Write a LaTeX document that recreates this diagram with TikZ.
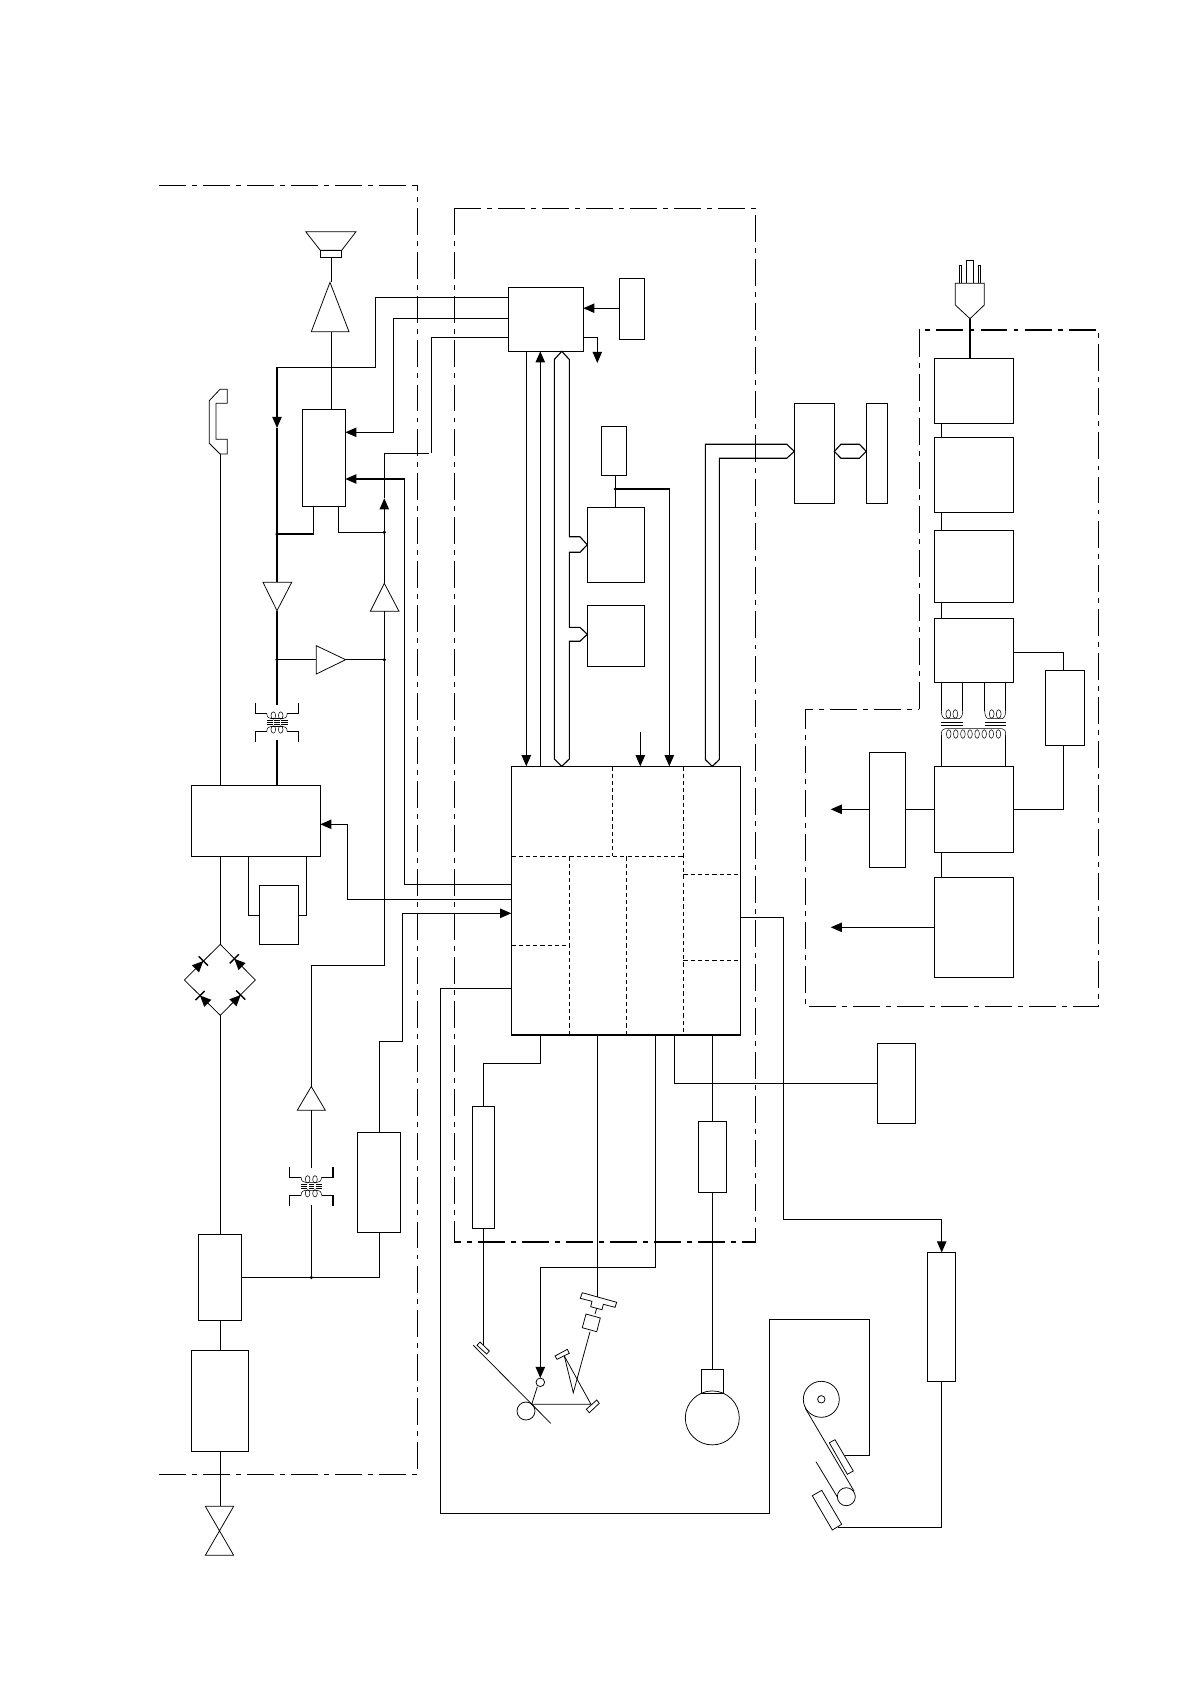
\documentclass[tikz,border=0pt]{standalone}
\usepackage{amsmath}
\usetikzlibrary{arrows.meta, fit}
\tikzset{
  wire/.style={line width=0.95pt},
  thin wire/.style={line width=0.65pt},
  coil wire/.style={line width=0.45pt},
  blk/.style={draw,line width=0.95pt,inner sep=0pt,outer sep=0pt},
  arr/.style={wire,-{Triangle[length=9.5pt,width=8pt]}},
  frame/.style={line width=0.95pt,dash pattern=on 23pt off 5.2pt on 4.2pt off 5.2pt},
  cell/.style={line width=0.85pt,dash pattern=on 3.6pt off 2.6pt},
}
\newcommand{\blk}[5]{\coordinate (#1a) at (#2,#3); \coordinate (#1b) at (#4,#5); \node[blk,fit=(#1a)(#1b)] (#1) {};}
\newcommand{\dotat}[2]{\fill (#1,#2) circle (1.5pt);}
\newcommand{\diode}[3]{\begin{scope}[shift={(#1,#2)},rotate=#3]
  \fill (0,0) -- (-11,-5) -- (-11,5) -- cycle;
  \draw[line width=1.2pt] (0,-6.5) -- (0,6.5);
\end{scope}}
\newcommand{\xfmr}[2]{\begin{scope}[shift={(#1,#2)},coil wire]
  \foreach \s in {1,-1}{
    \begin{scope}[yscale=\s]
      \draw[wire] (-21.7,-19.2) -- (-21.7,-9.2) -- (-10.3,-9.2);
      \draw[wire] (21.7,-19.2) -- (21.7,-9.2) -- (10.3,-9.2);
      \draw (-10.3,-9.2) .. controls (-10,-5) and (-8,-4) .. (-6,-4) -- (6,-4) .. controls (8,-4) and (10,-5) .. (10.3,-9.2);
      \draw (-3.7,-7) ellipse (2.3 and 3.7);
      \draw (3.7,-7) ellipse (2.3 and 3.7);
      \draw[thin wire] (-10,-1.8) -- (-4.3,-1.8) (-2.7,-1.8) -- (2.7,-1.8) (4.3,-1.8) -- (10.5,-1.8);
    \end{scope}}
  \draw[thin wire] (-10,0) -- (-4.3,0) (-2.7,0) -- (2.7,0) (4.3,0) -- (10.5,0);
\end{scope}}
\begin{document}
\begin{tikzpicture}[x=0.03cm,y=-0.03cm]
  \useasboundingbox (0,0) rectangle (1196,1682);
  \draw[frame] (159,185.3) -- (417.5,185.3);
  \draw[frame] (159,1474.5) -- (417.5,1474.5) -- (417.5,185.3);
  \draw[frame] (454.3,208.3) rectangle (755.3,1242);
  \draw[frame] (919.3,709.3) -- (919.3,330) -- (1098.3,330) -- (1098.3,1006.7) -- (805.3,1006.7) -- (805.3,709.3) -- cycle;

  \blk{ctl}{508.3}{287.3}{583.3}{351.3}
  \blk{gen}{619.3}{278.2}{644.3}{339.2}
  \blk{mix}{302.3}{409.3}{345.3}{506.3}
  \blk{modem}{191.3}{785.3}{320.3}{856.3}
  \blk{relay}{259.3}{885.3}{298.3}{944.3}
  \blk{hyb}{198.3}{1234.2}{241.3}{1320.3}
  \blk{filt}{191.3}{1350.2}{248.7}{1451.6}
  \blk{det}{357.3}{1132.4}{400.3}{1232.3}
  \blk{mcu}{511.3}{766.3}{740.3}{1035}
  \blk{bat}{601.3}{426.3}{626.3}{475.2}
  \blk{rom}{587.3}{507.2}{644.3}{582.3}
  \blk{ram}{587.3}{605.4}{644.3}{666.3}
  \blk{lcdc}{794.3}{403.2}{834.3}{503.4}
  \blk{lcd}{866.3}{403.2}{887.3}{503.4}
  \blk{scan}{472.3}{1106.4}{494.3}{1228.2}
  \blk{drv}{698.3}{1121.4}{726.3}{1192.5}
  \blk{oper}{877.3}{1043.2}{915.3}{1123.2}
  \blk{head}{927.7}{1252.5}{955.3}{1381.3}
  \blk{fuse}{934.3}{358.3}{1013.3}{423.3}
  \blk{noise}{934.3}{437.3}{1013.3}{512.3}
  \blk{rect}{934.3}{530.3}{1013.3}{602.3}
  \blk{chop}{934.3}{618.3}{1013.3}{682.3}
  \blk{fb}{1045.3}{670.3}{1084.7}{745.7}
  \blk{out}{934.3}{766.3}{1013.3}{852.3}
  \blk{reg}{869.3}{752.3}{905.7}{867.3}
  \blk{aux}{934.3}{877.3}{1013.3}{977.3}

  \draw[cell] (612.3,0 |- mcu.north) -- (612.3,856.3);
  \draw[cell] (683.3,0 |- mcu.north) -- (683.3,0 |- mcu.south);
  \draw[cell] (mcu.west |- 0,856.3) -- (683.3,856.3);
  \draw[cell] (569.3,856.3) -- (569.3,0 |- mcu.south);
  \draw[cell] (626.3,856.3) -- (626.3,0 |- mcu.south);
  \draw[cell] (mcu.west |- 0,945.3) -- (569.3,945.3);
  \draw[cell] (683.3,874.3) -- (mcu.east |- 0,874.3);
  \draw[cell] (683.3,960.3) -- (mcu.east |- 0,960.3);

  \draw[thin wire] (305.7,231.7) -- (356,231.7) -- (341.7,250.3) -- (320.3,250.3) -- cycle;
  \draw[thin wire] (320.3,250.3) rectangle (341.7,257);
  \coordinate (spk) at (331.3,257);
  \draw[thin wire] (330,282.3) coordinate (amptip) -- (349,331.7) -- (311.3,331.7) -- cycle;
  \coordinate (ampin) at (331.3,331.7);
  \draw[wire] (spk) -- (331.3,282.3);
  \draw[wire] (ampin) -- (331.3,0 |- mix.north);

  \draw[thin wire] (209.3,400.7) -- (220,389.3) -- (227.3,389.3) -- (227.3,403.3) -- (216,403.3) -- (216,439.3) -- (227.3,439.3) -- (227.3,454) -- (220,454) -- (209.3,443.3) -- cycle;
  \coordinate (hand) at (220.3,454);
  \draw[wire] (hand) -- (220.3,0 |- modem.north);

  \draw[thin wire] (263,582.3) -- (291.7,582.3) -- (277,610.7) coordinate (rxtip) -- cycle;
  \coordinate (rxin) at (277,582.3);
  \draw[thin wire] (384.3,583.3) coordinate (txtip) -- (399,611.3) -- (370.3,611.3) -- cycle;
  \coordinate (txin) at (384.3,611.3);
  \draw[thin wire] (316.3,645.7) -- (345.7,659.7) coordinate (sidetip) -- (316.3,674) -- cycle;
  \coordinate (sidein) at (316.3,659.7);
  \draw[thin wire] (311.3,1086.5) coordinate (lintip) -- (325.3,1110.2) -- (297.3,1110.2) -- cycle;
  \coordinate (linin) at (311.3,1110.2);

  \xfmr{277}{722.5}
  \xfmr{311.3}{1186.3}

  \draw[arr] (ctl.west |- 0,297.3) -- (375.7,297.3) -- (375.7,367.3) -- (277,367.3) -- (277,428);
  \draw[wire] (277,428) -- (rxin);
  \draw[arr] (ctl.west |- 0,318.3) -- (393.7,318.3) -- (393.7,432.3) -- (mix.east |- 0,432.3);
  \draw[wire] (ctl.west |- 0,337.3) -- (431.7,337.3) -- (431.7,453.3);
  \draw[arr] (txtip) -- (384.3,498.3);
  \draw[wire] (384.3,498.3) -- (384.3,453.3) -- (428.5,453.3);
  \draw[arr] (mcu.west |- 0,884.3) -- (404.7,884.3) -- (404.7,479) -- (mix.east |- 0,479);
  \draw[wire] (313.3,0 |- mix.south) -- (313.3,534) -- (277,534);
  \dotat{277}{534}
  \draw[wire] (338.3,0 |- mix.south) -- (338.3,532.3) -- (384.3,532.3);
  \dotat{384.3}{532.3}
  \draw[wire] (rxtip) -- (277,705);
  \draw[wire] (277,740) -- (277,0 |- modem.north);
  \draw[wire] (277,659.7) -- (sidein);
  \dotat{277}{659.7}
  \draw[wire] (sidetip) -- (384.3,659.7);
  \dotat{384.3}{659.7}
  \draw[wire] (txin) -- (384.3,965.3) -- (311.3,965.3) -- (lintip);
  \draw[arr] (mcu.west |- 0,899.3) -- (347.3,899.3) -- (347.3,824.3) -- (modem.east |- 0,824.3);
  \draw[wire] (248.7,0 |- modem.south) -- (248.7,915.3) -- (relay.west |- 0,915.3);
  \draw[wire] (306.3,0 |- modem.south) -- (306.3,915.3) -- (relay.east |- 0,915.3);

  \draw[thin wire] (220.3,944.3) coordinate (brtop) -- (255.3,980) -- (220.3,1015.3) coordinate (brbot) -- (184.3,980) -- cycle;
  \diode{203.3}{961}{45}
  \diode{234.3}{958.8}{135}
  \diode{200}{995.5}{135}
  \diode{240.7}{995}{45}
  \draw[wire] (220.3,0 |- modem.south) -- (brtop);
  \draw[wire] (brbot) -- (220.3,0 |- hyb.north);
  \draw[wire] (220.3,0 |- hyb.south) -- (220.3,0 |- filt.north);
  \draw[thin wire] (205.3,1506.3) -- (233.7,1506.3) -- (205.3,1555.3) -- (233.7,1555.3) -- cycle;
  \coordinate (line) at (220.3,1506.3);
  \draw[wire] (220.3,0 |- filt.south) -- (line);

  \draw[wire] (hyb.east |- 0,1277.5) -- (379.3,1277.5) -- (379.3,0 |- det.south);
  \dotat{311.3}{1277.5}
  \draw[wire] (311.3,1277.5) -- (311.3,1204.7);
  \draw[wire] (311.3,1168.4) -- (linin);
  \draw[arr] (379.3,0 |- det.north) -- (379.3,1041.3) -- (402.3,1041.3) -- (402.3,913.3) -- (mcu.west |- 0,913.3);

  \draw[wire] (mcu.west |- 0,988.3) -- (440.3,988.3) -- (440.3,1513.3) -- (769.3,1513.3) -- (769.3,1319.3) -- (869.3,1319.3) -- (869.3,1455.3) -- (845,1455.3);

  \draw[arr] (gen.west |- 0,308.2) -- (ctl.east |- 0,308.2);
  \draw[arr] (ctl.east |- 0,337.3) -- (597.3,337.3) -- (597.3,363);
  \draw[arr] (526.3,0 |- ctl.south) -- (526.3,0 |- mcu.north);
  \draw[arr] (540.3,0 |- mcu.north) -- (540.3,0 |- ctl.south);
  \draw[wire] (561.8,0 |- ctl.south) -- (554.3,359.5) -- (554.3,759) -- (561.8,0 |- mcu.north) -- (569.3,759) -- (569.3,641.2) -- (580,641.2) -- (ram.west |- 0,634.3) -- (580,627.4) -- (569.3,627.4) -- (569.3,552.3) -- (580,552.3) -- (rom.west |- 0,544.8) -- (580,536.8) -- (569.3,536.8) -- (569.3,359.5) -- cycle;
  \draw[wire] (615.3,0 |- bat.south) -- (615.3,0 |- rom.north);
  \dotat{615.3}{489}
  \draw[arr] (615.3,489) -- (669.3,489) -- (669.3,0 |- mcu.north);
  \coordinate (ext) at (640.3,732.1);
  \draw[arr] (ext) -- (640.3,0 |- mcu.north);
  \draw[wire] (712.3,0 |- mcu.north) -- (705.3,759.6) -- (705.3,444.2) -- (786.7,444.2) -- (lcdc.west |- 0,451.4) -- (786.7,458.3) -- (719.3,458.3) -- (719.3,759.6) -- cycle;
  \draw[wire] (lcdc.east |- 0,451.4) -- (841,444.2) -- (859.3,444.2) -- (lcd.west |- 0,451.4) -- (859.3,458.3) -- (841,458.3) -- cycle;

  \draw[wire] (540.3,0 |- mcu.south) -- (540.3,1063.2) -- (483.3,1063.2) -- (483.3,0 |- scan.north);
  \draw[thin wire] (473.3,1345.3) -- (550.7,1423.3);
  \draw[thin wire] (480,1342) -- (489.3,1351) -- (486.7,1354) -- (477,1345.3) -- cycle;
  \coordinate (sens) at (483.3,1345);
  \draw[wire] (483.3,0 |- scan.south) -- (sens);
  \draw[thin wire] (526,1411) circle (9);
  \draw[thin wire] (540.3,1382.3) circle (4.3);
  \coordinate (spot) at (540.3,1378);
  \draw[arr] (655.3,0 |- mcu.south) -- (655.3,1267.1) -- (540.3,1267.1) -- (spot);
  \draw[thin wire] (537.3,1386.7) -- (531.7,1404.3) -- (591,1404.3) -- (564.3,1356);
  \draw[thin wire] (586.3,1409.3) -- (596.7,1400) -- (599.3,1403.3) -- (589.3,1412.7) -- cycle;
  \draw[thin wire] (555,1356) -- (567.3,1349.3) -- (569.3,1353.3) -- (557,1359.3) -- cycle;
  \draw[thin wire] (564.3,1356) -- (573.3,1392.7) -- (590,1331.7);
  \draw[thin wire] (586,1314) -- (600.3,1318) -- (596.7,1331.7) -- (582.3,1327.7) -- cycle;
  \draw[thin wire] (595,1314) -- (596.7,1308.3);
  \draw[thin wire] (582.3,1292.7) -- (616.7,1302.3) -- (615,1307.3) -- (603.3,1304.3) -- (602,1309.7) -- (590.7,1306.7) -- (592,1301.3) -- (580.3,1298.3) -- cycle;
  \coordinate (led) at (597.3,1297);
  \draw[wire] (597.3,0 |- mcu.south) -- (led);

  \draw[wire] (674.3,0 |- mcu.south) -- (674.3,1083.2) -- (oper.west |- 0,1083.2);
  \draw[wire] (712.3,0 |- mcu.south) -- (712.3,0 |- drv.north);
  \draw[thin wire] (701.3,1369.3) rectangle (723.3,1392.9);
  \draw[thin wire] (712.3,1417.9) circle (27);
  \coordinate (motor) at (712.3,1369.3);
  \draw[wire] (712.3,0 |- drv.south) -- (motor);

  \draw[arr] (mcu.east |- 0,917.3) -- (783.3,917.3) -- (783.3,1219.3) -- (941.7,1219.3) -- (941.7,0 |- head.north);
  \draw[thin wire] (821.3,1399.3) circle (18);
  \draw[thin wire] (821.3,1399.3) circle (3.7);
  \draw[thin wire] (846.3,1496.7) circle (9);
  \draw[thin wire] (805.3,1408.3) -- (854,1491);
  \draw[thin wire] (816,1461.7) -- (837.8,1497.7);
  \draw[thin wire] (829.3,1442.7) -- (835,1439.7) -- (853.3,1471) -- (847.3,1474.3) -- cycle;
  \draw[thin wire] (812.3,1495.7) -- (821.7,1490.3) -- (841.7,1524.3) -- (832.3,1530) -- cycle;
  \coordinate (tph) at (838.3,1527.3);
  \draw[wire] (941.7,0 |- head.south) -- (941.7,1527.3) -- (tph);

  \draw[thin wire] (966.3,283.3) -- (966.3,260.3) -- (973.7,260.3) -- (973.7,283.3);
  \draw[thin wire] (959.3,283.3) -- (959.3,265.3) -- (961.7,265.3) -- (961.7,283.3);
  \draw[thin wire] (978.3,283.3) -- (978.3,265.3) -- (980.7,265.3) -- (980.7,283.3);
  \draw[thin wire] (955.3,283.3) -- (984.3,283.3) -- (984.3,305) -- (970,318.7) coordinate (plug) -- (955.3,305) -- cycle;
  \draw[wire] (plug) -- (970,0 |- fuse.north);
  \draw[wire] (941.3,0 |- fuse.south) -- (941.3,0 |- noise.north);
  \draw[wire] (941.3,0 |- noise.south) -- (941.3,0 |- rect.north);
  \draw[wire] (941.3,0 |- rect.south) -- (941.3,0 |- chop.north);
  \draw[wire] (chop.east |- 0,652.3) -- (1063.7,652.3) -- (1063.7,0 |- fb.north);
  \draw[wire] (1063.7,0 |- fb.south) -- (1063.7,809.3) -- (out.east |- 0,809.3);
  \draw[wire] (reg.east |- 0,809.3) -- (out.west |- 0,809.3);
  \draw[arr] (reg.west |- 0,809.3) -- (830.7,809.3);
  \draw[arr] (aux.west |- 0,927.3) -- (830.7,927.3);
  \draw[wire] (941.3,0 |- out.south) -- (941.3,0 |- aux.north);

  \foreach \a/\b in {941.3/962.7,984.7/1005.7}{
    \draw[wire] (\a,0 |- chop.south) -- (\a,711);
    \draw[wire] (\b,0 |- chop.south) -- (\b,711);
    \draw[coil wire] (\a,711) .. controls (\a,716) and (\a+2,718.7) .. (\a+4,718.7) -- (\b-4,718.7) .. controls (\b-2,718.7) and (\b,716) .. (\b,711);
    \draw[coil wire] (\a+7,714) ellipse (2.4 and 4.3);
    \draw[coil wire] (\a+14,714) ellipse (2.4 and 4.3);
    \draw[thin wire] (\a,722.7) -- (\b,722.7) (\a,725.3) -- (\b,725.3);
  }
  \draw[coil wire] (941.3,735) .. controls (941.3,731) and (942.3,728.7) .. (945,728.7) -- (1002,728.7) .. controls (1004.7,728.7) and (1005.7,731) .. (1005.7,735);
  \foreach \i in {0,...,7}
    \draw[coil wire] (948.7+7.1*\i,734) ellipse (2.3 and 4.3);
  \draw[wire] (941.3,735) -- (941.3,0 |- out.north);
  \draw[wire] (1005.7,735) -- (1005.7,0 |- out.north);
\end{tikzpicture}
\end{document}
